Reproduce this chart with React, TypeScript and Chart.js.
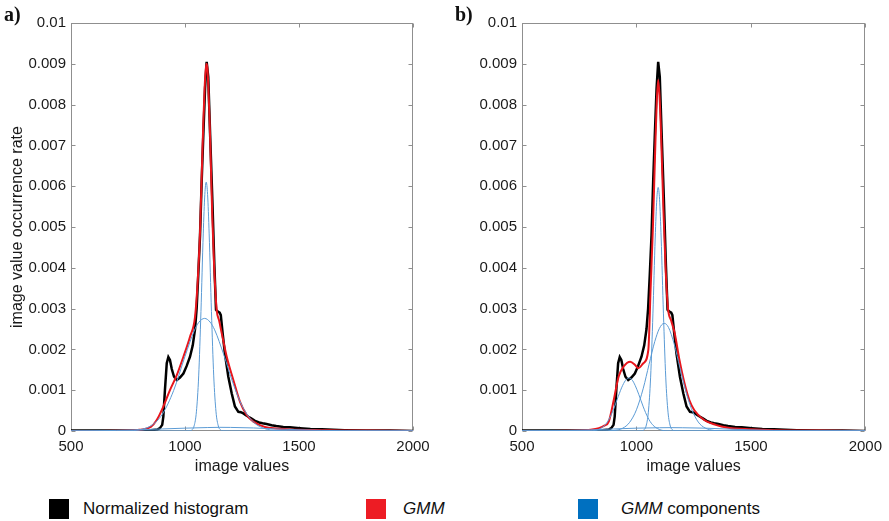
import React, { useEffect, useRef } from 'react';
import { Chart, registerables } from 'chart.js';
Chart.register(...registerables);

const FONT = "'Liberation Sans', Arial, sans-serif";

// ---- axis ticks ----
const xTicks = [500, 1000, 1500, 2000];
const yTicks = [0, 0.001, 0.002, 0.003, 0.004, 0.005, 0.006, 0.007, 0.008, 0.009, 0.01];
const yTickLabels = ['0', '0.001', '0.002', '0.003', '0.004', '0.005', '0.006', '0.007', '0.008', '0.009', '0.01'];

// ---- normalized histogram (same in both panels) ----
const histX = [500, 600, 700, 800, 850, 880, 890, 900, 905, 912, 920, 927, 934, 942, 952, 964, 978, 993, 1007, 1022, 1034, 1044, 1051, 1058, 1066, 1073, 1080, 1088, 1095, 1102, 1110, 1120, 1129, 1136, 1141, 1146, 1152, 1157, 1165, 1175, 1190, 1205, 1219, 1234, 1245, 1256, 1267, 1278, 1290, 1307, 1325, 1340, 1358, 1380, 1400, 1431, 1460, 1504, 1550, 1600, 1650, 1700, 1796, 1900, 2000];
const histY = [0.00001, 0.00001, 0.00001, 0.00001, 0.00002, 0.00004, 0.00007, 0.00015, 0.00035, 0.001, 0.00166, 0.00181, 0.00174, 0.00152, 0.00133, 0.00125, 0.00131, 0.00141, 0.00159, 0.00182, 0.0021, 0.0025, 0.003, 0.0038, 0.0048, 0.0061, 0.0072, 0.0084, 0.00905, 0.00868, 0.0073, 0.00566, 0.00403, 0.00297, 0.00294, 0.00292, 0.0029, 0.00284, 0.0024, 0.0019, 0.00133, 0.00092, 0.0006, 0.00047, 0.00046, 0.00043, 0.00039, 0.00035, 0.00031, 0.00025, 0.00021, 0.00019, 0.00017, 0.00014, 0.00012, 0.0001, 0.00009, 0.00007, 0.00005, 0.00004, 0.00003, 0.00002, 0.00001, 0.00001, 0];

// ---- panel a: GMM and its components ----
const gmmAX = [500, 600, 700, 750, 800, 850, 876, 905, 934, 964, 993, 1022, 1044, 1056, 1066, 1074, 1080, 1086, 1090, 1094, 1098, 1102, 1108, 1114, 1120, 1128, 1139, 1150, 1161, 1183, 1212, 1241, 1271, 1300, 1350, 1400, 1500, 1600, 1700, 1800, 2000];
const gmmAY = [0, 0.000002, 0.000005, 0.00001, 0.00003, 0.0001, 0.00027, 0.0006, 0.001, 0.00137, 0.00182, 0.00231, 0.0028, 0.0037, 0.0049, 0.0064, 0.0075, 0.0084, 0.0088, 0.009, 0.0089, 0.0085, 0.0076, 0.0064, 0.0052, 0.004, 0.00297, 0.0027, 0.0024, 0.00182, 0.00125, 0.00072, 0.00039, 0.00023, 0.0001, 0.00006, 0.00003, 0.00002, 0.00001, 0.00001, 0];

const narrowAX = [500, 1000, 1020, 1030, 1040, 1050, 1060, 1070, 1080, 1087, 1093, 1099, 1106, 1116, 1126, 1136, 1146, 1156, 1166, 1200, 2000];
const narrowAY = [0, 0, 0.000004, 0.000025, 0.000125, 0.00047, 0.00135, 0.00293, 0.00483, 0.0058, 0.0061, 0.0058, 0.00483, 0.00293, 0.00135, 0.00047, 0.000125, 0.000025, 0.000004, 0, 0];

const broadAX = [500, 700, 750, 800, 850, 900, 950, 1000, 1040, 1060, 1086, 1110, 1130, 1170, 1210, 1250, 1300, 1350, 1400, 1450, 1600, 2000];
const broadAY = [0, 0.000001, 0.000005, 0.00003, 0.000126, 0.000406, 0.00099, 0.00183, 0.00245, 0.00266, 0.00276, 0.00267, 0.00248, 0.00187, 0.00118, 0.00062, 0.00022, 0.000058, 0.000012, 0.000002, 0, 0];

const flatX = [500, 600, 700, 800, 900, 1000, 1100, 1150, 1200, 1300, 1400, 1500, 1600, 1700, 1800, 2000];
const flatAY = [0.000001, 0.000004, 0.000015, 0.00003, 0.00005, 0.00007, 0.000085, 0.00009, 0.000088, 0.000075, 0.00005, 0.00003, 0.000015, 0.000006, 0.000002, 0];

// ---- panel b: GMM and its components ----
const gmmBX = [500, 600, 700, 750, 800, 836, 860, 879, 901, 922, 944, 973, 994, 1008, 1030, 1052, 1062, 1072, 1082, 1089, 1095, 1101, 1108, 1118, 1128, 1138, 1152, 1167, 1188, 1210, 1231, 1253, 1296, 1346, 1400, 1500, 1600, 1800, 2000];
const gmmBY = [0, 0.000002, 0.000005, 0.00001, 0.00003, 0.00007, 0.00013, 0.00023, 0.00076, 0.00133, 0.00158, 0.0017, 0.00162, 0.00154, 0.00166, 0.00199, 0.0035, 0.005, 0.0069, 0.0081, 0.0086, 0.0082, 0.0072, 0.0054, 0.0039, 0.003, 0.0027, 0.0024, 0.00174, 0.00117, 0.00076, 0.00051, 0.00027, 0.00015, 0.00008, 0.00004, 0.00002, 0.00001, 0];

const leftBX = [500, 800, 830, 860, 880, 900, 920, 940, 955, 967, 980, 995, 1010, 1030, 1050, 1070, 1100, 1130, 1200, 2000];
const leftBY = [0, 0.000005, 0.00003, 0.00013, 0.00029, 0.00053, 0.00084, 0.00112, 0.00126, 0.0013, 0.00126, 0.00111, 0.0009, 0.00059, 0.00033, 0.000156, 0.000038, 0.000006, 0, 0];

const narrowBX = [500, 1000, 1022, 1032, 1042, 1052, 1062, 1072, 1082, 1089, 1095, 1101, 1108, 1118, 1128, 1138, 1148, 1158, 1168, 1200, 2000];
const narrowBY = [0, 0, 0.000004, 0.000024, 0.00012, 0.00046, 0.00132, 0.00287, 0.00473, 0.00568, 0.00597, 0.00568, 0.00473, 0.00287, 0.00132, 0.00046, 0.00012, 0.000024, 0.000004, 0, 0];

const broadBX = [500, 850, 900, 940, 970, 1000, 1030, 1055, 1080, 1100, 1121, 1140, 1165, 1190, 1215, 1240, 1270, 1300, 1340, 1380, 1500, 2000];
const broadBY = [0, 0.000001, 0.000011, 0.000069, 0.00021, 0.00052, 0.00105, 0.00163, 0.00219, 0.00251, 0.00264, 0.00254, 0.00213, 0.00155, 0.00099, 0.00055, 0.00022, 0.000074, 0.000013, 0.000002, 0, 0];

const flatBY = [0.000001, 0.000004, 0.000013, 0.000028, 0.00005, 0.00007, 0.00008, 0.000082, 0.00008, 0.00007, 0.000048, 0.000028, 0.000014, 0.000006, 0.000002, 0];

const BLACK = '#000000';
const RED = '#e8161d';
const BLUE = '#5b9bd5';

function pts(xs: number[], ys: number[]) {
  return xs.map((x, i) => ({ x, y: ys[i] }));
}

const boxPlugin = {
  id: 'matlabBox',
  beforeDatasetsDraw(chart: any) {
    const { ctx, chartArea: a, scales } = chart;
    ctx.save();
    ctx.strokeStyle = '#8f8f8f';
    ctx.lineWidth = 1;
    const l = Math.round(a.left) + 0.5, r = Math.round(a.right) - 0.5;
    const t = Math.round(a.top) + 0.5, b = Math.round(a.bottom) - 0.5;
    ctx.strokeRect(l, t, r - l, b - t);
    const L = 4;
    ctx.beginPath();
    for (const v of xTicks) {
      const px = Math.round(scales.x.getPixelForValue(v)) + 0.5;
      ctx.moveTo(px, b); ctx.lineTo(px, b - L);
      ctx.moveTo(px, t); ctx.lineTo(px, t + L);
    }
    for (const v of yTicks) {
      const py = Math.round(scales.y.getPixelForValue(v)) + 0.5;
      ctx.moveTo(l, py); ctx.lineTo(l + L, py);
      ctx.moveTo(r, py); ctx.lineTo(r - L, py);
    }
    ctx.stroke();
    ctx.restore();
  },
};

function line(label: string, data: any[], color: string, width: number, order: number, smooth: boolean) {
  return {
    label,
    data,
    borderColor: color,
    backgroundColor: color,
    borderWidth: width,
    pointRadius: 0,
    fill: false,
    order,
    tension: 0,
    cubicInterpolationMode: smooth ? 'monotone' : 'default',
  };
}

function makeConfig(datasets: any[], yAxisWidth: number, showYTitle: boolean, padRight: number) {
  return {
    type: 'line',
    data: { datasets },
    options: {
      animation: false,
      responsive: false,
      devicePixelRatio: 1,
      layout: { padding: { top: 23, right: padRight, left: 0, bottom: 0 } },
      plugins: { legend: { display: false }, tooltip: { enabled: false } },
      scales: {
        x: {
          type: 'linear',
          min: 500,
          max: 2000,
          afterBuildTicks: (s: any) => { s.ticks = xTicks.map((v) => ({ value: v })); },
          afterFit: (s: any) => { s.height = 49; },
          grid: { display: false, drawTicks: false },
          border: { display: false },
          ticks: {
            padding: 7,
            color: '#1a1a1a',
            font: { family: FONT, size: 15 },
            maxRotation: 0,
            autoSkip: false,
            callback: (v: any) => String(v),
          },
          title: {
            display: true,
            text: 'image values',
            color: '#1a1a1a',
            font: { family: FONT, size: 16 },
            padding: { top: 0, bottom: 4 },
          },
        },
        y: {
          type: 'linear',
          min: 0,
          max: 0.01,
          afterBuildTicks: (s: any) => { s.ticks = yTicks.map((v) => ({ value: v })); },
          afterFit: (s: any) => { s.width = yAxisWidth; },
          grid: { display: false, drawTicks: false },
          border: { display: false },
          ticks: {
            padding: 5,
            color: '#1a1a1a',
            font: { family: FONT, size: 15 },
            autoSkip: false,
            callback: (_v: any, i: number) => yTickLabels[i],
          },
          title: {
            display: showYTitle,
            text: 'image value occurrence rate',
            color: '#1a1a1a',
            font: { family: FONT, size: 16 },
            padding: { top: 8, bottom: 0 },
          },
        },
      },
    },
    plugins: [boxPlugin],
  };
}

function ChartCanvas({ config, left, width }: { config: any; left: number; width: number }) {
  const ref = useRef<HTMLCanvasElement>(null);
  useEffect(() => {
    if (!ref.current) return;
    const chart = new Chart(ref.current, config);
    return () => chart.destroy();
  }, []);
  return (
    <canvas
      ref={ref}
      width={width}
      height={480}
      style={{ position: 'absolute', left, top: 0, width, height: 480 }}
    />
  );
}

export default function App() {
  const dsA = [
    line('GMM components', pts(narrowAX, narrowAY), BLUE, 1, 1, true),
    line('GMM components', pts(broadAX, broadAY), BLUE, 1, 1, true),
    line('GMM components', pts(flatX, flatAY), BLUE, 1, 1, true),
    line('GMM', pts(gmmAX, gmmAY), RED, 2, 2, true),
    line('Normalized histogram', pts(histX, histY), BLACK, 2.5, 3, false),
  ];
  const dsB = [
    line('GMM components', pts(leftBX, leftBY), BLUE, 1, 1, true),
    line('GMM components', pts(narrowBX, narrowBY), BLUE, 1, 1, true),
    line('GMM components', pts(broadBX, broadBY), BLUE, 1, 1, true),
    line('GMM components', pts(flatX, flatBY), BLUE, 1, 1, true),
    line('GMM', pts(gmmBX, gmmBY), RED, 2, 2, true),
    line('Normalized histogram', pts(histX, histY), BLACK, 2.5, 3, false),
  ];
  const cfgA = makeConfig(dsA, 71, true, 32);
  const cfgB = makeConfig(dsB, 77, false, 19);

  const labelStyle: React.CSSProperties = {
    position: 'absolute',
    top: 2,
    fontFamily: "'Liberation Serif', 'Times New Roman', serif",
    fontWeight: 'bold',
    fontSize: 20,
    lineHeight: '24px',
    color: '#111',
  };
  const legText: React.CSSProperties = {
    position: 'absolute',
    top: 499,
    fontFamily: FONT,
    fontSize: 17,
    lineHeight: '20px',
    color: '#111',
    whiteSpace: 'nowrap',
  };
  const sq = (left: number, color: string): React.CSSProperties => ({
    position: 'absolute',
    left,
    top: 499,
    width: 20,
    height: 20,
    background: color,
  });

  return (
    <div style={{ position: 'fixed', left: 0, top: 0, width: 889, height: 521, background: '#fff', overflow: 'hidden' }}>
      <ChartCanvas config={cfgA} left={0} width={445} />
      <ChartCanvas config={cfgB} left={445} width={444} />
      <div style={{ ...labelStyle, left: 4 }}>a)</div>
      <div style={{ ...labelStyle, left: 455 }}>b)</div>
      <div style={sq(49, '#000000')} />
      <div style={{ ...legText, left: 83 }}>Normalized histogram</div>
      <div style={sq(366, '#ed1c24')} />
      <div style={{ ...legText, left: 403 }}><i>GMM</i></div>
      <div style={sq(578, '#0070c0')} />
      <div style={{ ...legText, left: 621 }}><i>GMM</i> components</div>
    </div>
  );
}
